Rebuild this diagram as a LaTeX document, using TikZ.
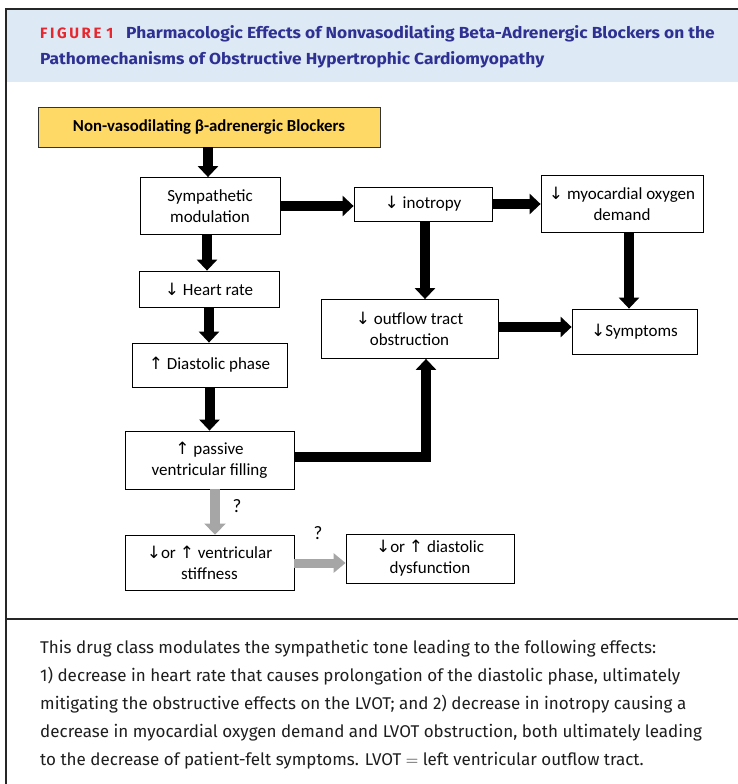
\documentclass[tikz,border=0pt]{standalone}
\usepackage{fontspec}
\setmainfont{Carlito}
\newfontfamily\arrowfont{DejaVu Sans}
\newfontfamily\headfont[FakeStretch=1.085]{Fira Sans}
\newfontfamily\capfont{Fira Sans}
\usetikzlibrary{arrows.meta,calc}
\definecolor{headblue}{HTML}{DDE9F5}
\definecolor{titleblue}{HTML}{2E3192}
\definecolor{figred}{HTML}{E8262E}
\definecolor{boxyellow}{HTML}{FFD966}
\definecolor{arrowgray}{HTML}{A6A6A6}
\definecolor{captext}{HTML}{1E1E1E}
\newcommand{\dn}{{\arrowfont\char"2193}}
\newcommand{\up}{{\arrowfont\char"2191}}
\newcommand{\lsp}{\kern2.6pt}
\tikzset{
  flowbox/.style={draw=black, line width=0.8pt, fill=white, align=center, inner sep=0pt,
    font=\fontsize{17}{21}\selectfont},
  bigarrow/.style={line width=10pt, draw=black, -{Triangle[width=20pt,length=11pt]}},
  grayarrow/.style={line width=10pt, draw=arrowgray, -{Triangle[width=21pt,length=11pt]}},
  qmark/.style={font=\fontsize{19}{22}\selectfont, inner sep=0pt},
  capline/.style={anchor=base west, inner sep=0pt, text=captext, font=\capfont\fontsize{17}{20}\selectfont},
  titleline/.style={anchor=base west, inner sep=0pt, font=\headfont\bfseries\fontsize{16}{20}\selectfont, text=titleblue},
}
\begin{document}
\begin{tikzpicture}[x=1pt,y=-1pt]
\useasboundingbox (0,0) rectangle (738,784);
\fill[white] (0,0) rectangle (738,784);
% header band
\fill[headblue] (7,10) rectangle (738,82);
\draw[line width=1.6pt, black!85] (6,9) -- (738,9);
\draw[line width=1.6pt, black!85] (6,8.2) -- (6,784);
\draw[line width=1.6pt, black!85] (6,619) -- (738,619);
% title
\node[anchor=base west, inner sep=0pt, font=\capfont\bfseries\fontsize{15}{18}\selectfont, text=figred] (fig) at (40,39)
  {F\lsp I\lsp G\lsp U\lsp R\lsp E\kern5pt 1};
\node[titleline] (title1) at (126,39)
  {Pharmacologic Effects of Nonvasodilating Beta-Adrenergic Blockers on the};
\node[titleline] (title2) at (40,65)
  {Pathomechanisms of Obstructive Hypertrophic Cardiomyopathy};
% boxes
\node[flowbox, fill=boxyellow, draw=black!80, minimum width=342pt, minimum height=40pt, font=\bfseries\fontsize{16.8}{20}\selectfont] (blk) at (209,127)
  {Non-vasodilating β-adrenergic Blockers};
\node[flowbox, minimum width=140pt, minimum height=57pt] (symp) at (210,206) {Sympathetic\\modulation};
\node[flowbox, minimum width=138pt, minimum height=34pt] (ino) at (423,204) {\dn\ inotropy};
\node[flowbox, minimum width=162pt, minimum height=57pt] (myo) at (622,203.5) {\dn\ myocardial oxygen\\demand};
\node[flowbox, minimum width=140pt, minimum height=36pt] (hr) at (209,289) {\dn\ Heart rate};
\node[flowbox, minimum width=177pt, minimum height=59pt] (obs) at (409.5,329) {\dn\ outflow tract\\obstruction};
\node[flowbox, minimum width=125pt, minimum height=45pt] (sym) at (634.5,331.5) {\dn Symptoms};
\node[flowbox, minimum width=155pt, minimum height=44pt] (dp) at (209.5,365) {\up\ Diastolic phase};
\node[flowbox, minimum width=169pt, minimum height=58pt] (pvf) at (209.5,460) {\up\ passive\\ventricular filling};
\node[flowbox, minimum width=169pt, minimum height=55pt] (stiff) at (209.5,562.5) {\dn or \up\ ventricular\\stiffness};
\node[flowbox, minimum width=168pt, minimum height=49pt] (dys) at (430,558.5) {\dn or \up\ diastolic\\dysfunction};
% black arrows
\draw[bigarrow] ([xshift=-2pt]blk.south -| symp.south) -- ([xshift=-2pt]symp.north);
\draw[bigarrow] ([xshift=-3pt]symp.south) -- ([xshift=-3pt]symp.south |- hr.north);
\draw[bigarrow] (hr.south) -- (hr.south |- dp.north);
\draw[bigarrow] (dp.south) -- (dp.south |- pvf.north);
\draw[bigarrow] (symp.east) -- (symp.east -| ino.west);
\draw[bigarrow] (ino.east) -- (ino.east -| myo.west);
\draw[bigarrow] ([xshift=2pt]ino.south) -- ([xshift=2pt]ino.south |- obs.north);
\draw[bigarrow] ([xshift=7pt]myo.south) -- ([xshift=7pt]myo.south |- sym.north);
\draw[bigarrow] ([yshift=2pt]obs.east) -- ([yshift=2pt]obs.east -| sym.west);
\draw[bigarrow] ([yshift=3pt]pvf.east) -| ([xshift=16.5pt]obs.south);
% gray arrows
\draw[grayarrow] ([xshift=5.5pt]pvf.south) -- ([xshift=5.5pt]pvf.south |- stiff.north);
\draw[grayarrow, line width=9pt, -{Triangle[width=19pt,length=12pt]}] ([yshift=-0.5pt]stiff.east) -- ([yshift=-0.5pt]stiff.east -| dys.west);
\node[qmark] (q1) at (237,506) {?};
\node[qmark] (q2) at (318,533) {?};
% caption
\node[capline] (cap1) at (40,653) {This drug class modulates the sympathetic tone leading to the following effects:};
\node[capline] (cap2) at (40,681) {1) decrease in heart rate that causes prolongation of the diastolic phase, ultimately};
\node[capline] (cap3) at (40,709) {mitigating the obstructive effects on the LVOT; and 2) decrease in inotropy causing a};
\node[capline] (cap4) at (40,737) {decrease in myocardial oxygen demand and LVOT obstruction, both ultimately leading};
\node[capline] (cap5) at (40,765) {to the decrease of patient-felt symptoms. LVOT $=$ left ventricular outflow tract.};
\end{tikzpicture}
\end{document}
